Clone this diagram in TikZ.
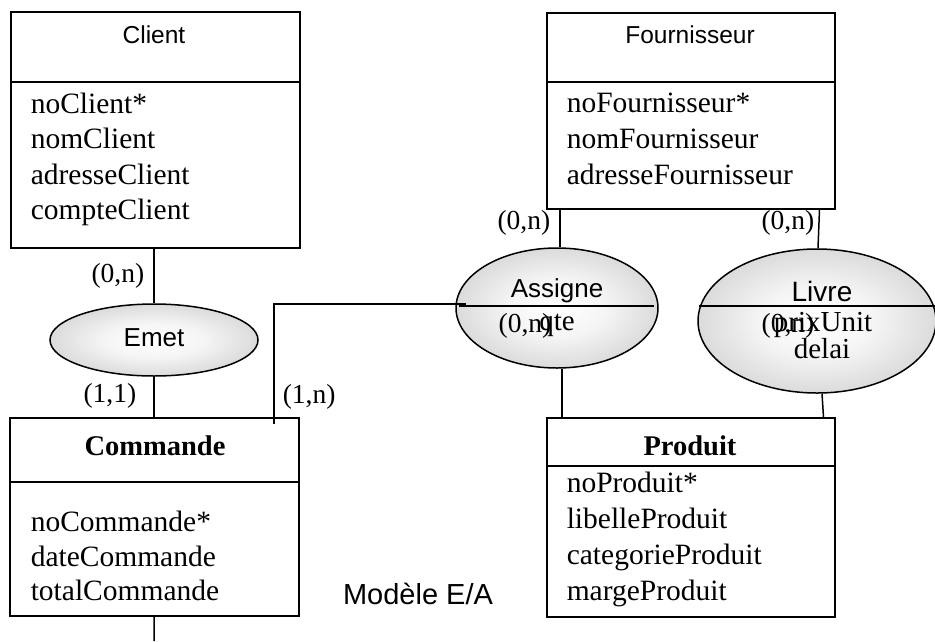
\documentclass[tikz,border=0pt]{standalone}
\usepackage{fontspec}
\setmainfont{Liberation Serif}
\setsansfont{Liberation Sans}
\usetikzlibrary{shapes.geometric}
% soft grey fill for the relationship ellipses
\pgfdeclareradialshading{relshade}{\pgfpointorigin}{%
  color(0bp)=(white); color(12bp)=(white!96!black);
  color(30bp)=(black!18); color(50bp)=(black!38); color(70bp)=(black!38)}
\begin{document}
\begin{tikzpicture}[x=1pt,y=1pt,line width=1.5pt,
  entbox/.style={draw, rectangle, inner sep=0, anchor=north west},
  rel/.style={draw, ellipse, inner sep=0, shade, shading=relshade},
  attr/.style={inner sep=0, anchor=base west, font=\fontsize{29.5}{33}\selectfont},
  midtxt/.style={inner sep=0, anchor=base, font=\fontsize{29}{33}\selectfont},
  enttitle/.style={inner sep=0, anchor=base, font=\sffamily\fontsize{24.5}{28}\selectfont},
  enttitleb/.style={inner sep=0, anchor=base, font=\bfseries\fontsize{28.5}{32}\selectfont},
  reltitle/.style={inner sep=0, anchor=base, font=\sffamily\fontsize{26}{30}\selectfont},
  card/.style={inner sep=0, font=\fontsize{27.5}{31}\selectfont}]
\useasboundingbox (0,0) rectangle (935,-641);

% entities
\node[entbox, minimum width=289, minimum height=236] (client) at (10,-11) {};
\draw ([yshift=-71]client.north west) -- ([yshift=-71]client.north east);
\node[entbox, minimum width=288, minimum height=196] (fourn) at (546,-12) {};
\draw ([yshift=-70]fourn.north west) -- ([yshift=-70]fourn.north east);
\node[entbox, minimum width=289, minimum height=198] (commande) at (9,-417) {};
\draw ([yshift=-65]commande.north west) -- ([yshift=-65]commande.north east);
\node[entbox, minimum width=288, minimum height=199] (produit) at (546,-417) {};
\draw ([yshift=-49]produit.north west) -- ([yshift=-49]produit.north east);

% relationships
\node[rel, minimum width=208, minimum height=72] (emet) at (154,-340) {};
\node[rel, minimum width=202, minimum height=120] (assigne) at (557,-308) {};
\node[rel, minimum width=238, minimum height=144] (livre) at (817,-321) {};
\draw ([shift={(4,2)}]assigne.west) -- ([shift={(-5,2)}]assigne.east);
\draw ([shift={(-118,15)}]livre.center) -- ([shift={(120,15)}]livre.center);

% connectors
\draw (client.south -| emet.north) -- (emet.north);
\draw (emet.south) -- (emet.south |- commande.north);
\draw ([shift={(265,-7)}]commande.north west) |- ([shift={(11,4)}]assigne.west);
\draw ([xshift=14]fourn.south west) -- ([xshift=3]assigne.north);
\draw ([xshift=-16]fourn.south east) -- ([xshift=1]livre.north);
\draw ([xshift=5]assigne.south) -- ([xshift=16]produit.north west);
\draw ([xshift=5]livre.south) -- ([xshift=-12]produit.north east);
\coordinate (cmdend) at (154,-641);
\draw (commande.south) -- (cmdend);

% entity texts
\node[enttitle] (tclient) at (154,-43) {Client};
\node[attr] (c1) at (30,-113) {noClient*};
\node[attr] (c2) at (30,-148) {nomClient};
\node[attr] (c3) at (30,-184) {adresseClient};
\node[attr] (c4) at (30,-219) {compteClient};

\node[enttitle] (tfourn) at (690,-43) {Fournisseur};
\node[attr] (f1) at (566,-112) {noFournisseur*};
\node[attr] (f2) at (566,-148) {nomFournisseur};
\node[attr] (f3) at (566,-184) {adresseFournisseur};

\node[enttitleb] (tcommande) at (155,-455) {Commande};
\node[attr] (k1) at (30,-531) {noCommande*};
\node[attr] (k2) at (30,-566) {dateCommande};
\node[attr] (k3) at (30,-600) {totalCommande};

\node[enttitleb] (tproduit) at (690,-455) {Produit};
\node[attr] (p1) at (566,-492) {noProduit*};
\node[attr] (p2) at (566,-528) {libelleProduit};
\node[attr] (p3) at (566,-564) {categorieProduit};
\node[attr] (p4) at (566,-600) {margeProduit};

% relationship texts
\node[reltitle] (temet) at (154,-346) {Emet};
\node[reltitle] (tassigne) at (557,-297) {Assigne};
\node[reltitle, font=\sffamily\fontsize{28}{32}\selectfont] (tlivre) at (822,-301) {Livre};
\node[midtxt] (qte) at (557,-330) {qte};
\node[midtxt] (prix) at (823,-331) {prixUnit};
\node[midtxt] (delai) at (822,-358) {delai};

% cardinalities
\node[card, anchor=base east] (k01) at (145,-282) {(0,n)};
\node[card, anchor=base east] (k11) at (137,-402) {(1,1)};
\node[card, anchor=base west] (k1n) at (282,-403) {(1,n)};
\node[card, anchor=base east] (kfa) at (551,-229) {(0,n)};
\node[card, anchor=base east] (kfl) at (815,-229) {(0,n)};
\node[card, anchor=base] (kpa) at (525,-332) {(0,n)};
\node[card, anchor=base] (kpl) at (788,-332) {(0,n)};

% caption
\node[inner sep=0, anchor=base, font=\sffamily\fontsize{29}{33}\selectfont] (caption) at (418,-604) {Modèle E/A};
\end{tikzpicture}
\end{document}
